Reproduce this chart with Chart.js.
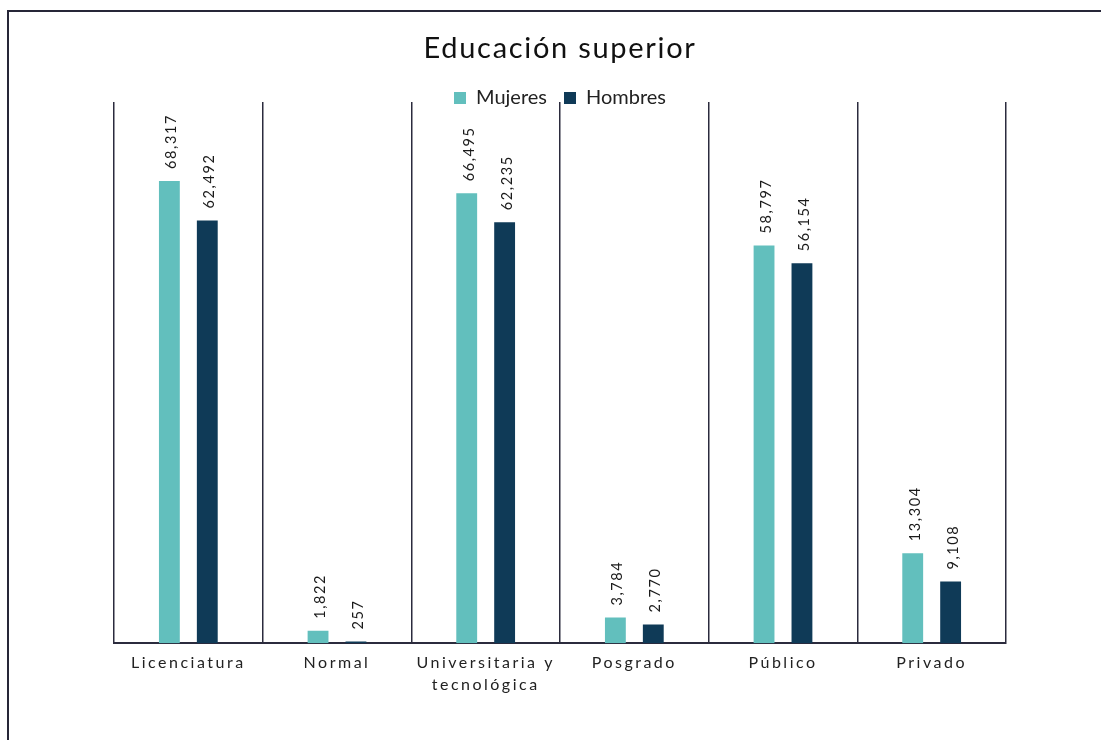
<!DOCTYPE html>
<html>
<head>
<meta charset="utf-8">
<script src="https://cdn.jsdelivr.net/npm/chart.js@4"></script>
<style>
html, body { margin: 0; padding: 0; background: #fff; overflow: hidden; }
#wrap { position: relative; width: 1101px; height: 740px; overflow: hidden; }
#frame { position: absolute; left: 7px; top: 10px; right: -10px; bottom: -10px;
         border-left: 2px solid #262638; border-top: 2px solid #262638; pointer-events: none; }
</style>
</head>
<body>
<div id="wrap">
  <canvas id="eduChart" width="1101" height="740"></canvas>
  <div id="frame"></div>
</div>
<script>
// categorias y valores
const categories = ['Licenciatura', 'Normal', ['Universitaria y', 'tecnológica'], 'Posgrado', 'Público', 'Privado'];
const mujeres = [68317, 1822, 66495, 3784, 58797, 13304];
const hombres = [62492, 257, 62235, 2770, 56154, 9108];

const tealColor = '#62bfbd';
const navyColor = '#0f3a57';
const lineColor = '#2b2b3d';

// numeros rotados encima de cada barra
const valueLabels = {
    id: 'valueLabels',
    afterDatasetsDraw(chart) {
        const ctx = chart.ctx;
        ctx.save();
        ctx.font = '14.5px Lato';
        ctx.letterSpacing = '1.6px';
        ctx.fillStyle = '#1a1a1a';
        ctx.textAlign = 'left';
        ctx.textBaseline = 'alphabetic';
        chart.data.datasets.forEach((ds, i) => {
            chart.getDatasetMeta(i).data.forEach((bar, j) => {
                ctx.save();
                ctx.translate(bar.x + 7, bar.y - 12);
                ctx.rotate(-Math.PI / 2);
                ctx.fillText(ds.data[j].toLocaleString('en-US'), 0, 0);
                ctx.restore();
            });
        });
        ctx.restore();
    }
};

// espaciado de letras en titulo y etiquetas del eje, leyenda pegada al area
const overlap = 16;
const spacing = {
    id: 'spacing',
    afterInit(chart) {
        const lg = chart.legend;
        if (lg && !lg._tight) {
            const fit = lg.fit;
            lg.fit = function () { fit.call(this); this.height -= overlap; };
            const draw = lg.draw;
            lg.draw = function () {
                this.bottom += overlap; this.height += overlap;
                draw.call(this);
                this.bottom -= overlap; this.height -= overlap;
            };
            lg._tight = true;
        }
        const tb = chart.titleBlock;
        if (tb && !tb._spaced) {
            const draw = tb.draw;
            tb.draw = function () {
                this.ctx.save();
                this.ctx.letterSpacing = '1.7px';
                draw.call(this);
                this.ctx.restore();
            };
            tb._spaced = true;
        }
    },
    afterLayout(chart) {
        const sx = chart.scales.x;
        if (sx && !sx._spaced) {
            const drawLabels = sx.drawLabels;
            sx.drawLabels = function (area) {
                this.ctx.save();
                this.ctx.letterSpacing = '2.5px';
                drawLabels.call(this, area);
                this.ctx.restore();
            };
            sx._spaced = true;
        }
    }
};

const eduData = {
    labels: categories,
    datasets: [{
        label: 'Mujeres',
        backgroundColor: tealColor,
        data: mujeres,
        categoryPercentage: 0.51,
        barPercentage: 0.55
    },
    {
        label: 'Hombres',
        backgroundColor: navyColor,
        data: hombres,
        categoryPercentage: 0.51,
        barPercentage: 0.55
    }]
};

const eduConfig = {
    type: 'bar',
    data: eduData,
    plugins: [valueLabels, spacing],
    options: {
        responsive: false,
        animation: false,
        devicePixelRatio: 1,
        layout: {
            padding: { left: 114, right: 95, top: 0, bottom: 36 }
        },
        plugins: {
            title: {
                display: true,
                text: 'Educación superior',
                color: '#111',
                font: { family: 'Lato', size: 29, weight: 'normal' },
                padding: { top: 31, bottom: 5.2 }
            },
            legend: {
                display: true,
                labels: {
                    color: '#222',
                    font: { family: 'Lato', size: 20 },
                    boxWidth: 12,
                    boxHeight: 12,
                    padding: 17
                }
            },
            tooltip: { enabled: false }
        },
        scales: {
            x: {
                grid: {
                    display: true,
                    offset: true,
                    color: lineColor,
                    lineWidth: 1.5,
                    drawTicks: false
                },
                border: { display: true, color: lineColor, width: 2 },
                ticks: {
                    color: '#222',
                    font: { family: 'Lato', size: 16, lineHeight: 1.4 },
                    padding: 8,
                    maxRotation: 0
                }
            },
            y: {
                display: false,
                min: 0,
                max: 80000
            }
        }
    }
};

var eduChart = new Chart(
    document.getElementById('eduChart'),
    eduConfig
);
</script>
</body>
</html>
